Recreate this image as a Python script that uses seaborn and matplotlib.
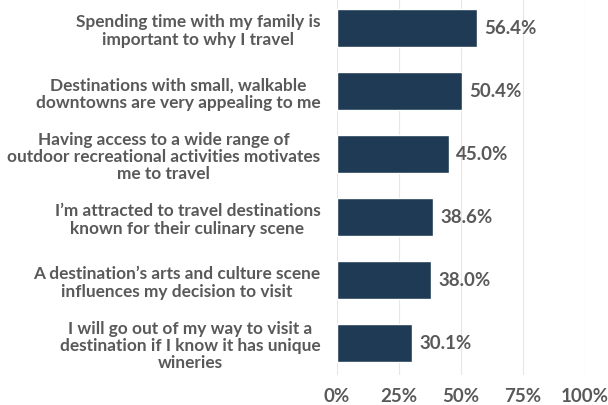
import matplotlib
matplotlib.use("Agg")
import matplotlib.pyplot as plt
import seaborn as sns
import pandas as pd

statements = [
    "Spending time with my family is\nimportant to why I travel",
    "Destinations with small, walkable\ndowntowns are very appealing to me",
    "Having access to a wide range of\noutdoor recreational activities motivates\nme to travel",
    "I\u2019m attracted to travel destinations\nknown for their culinary scene",
    "A destination\u2019s arts and culture scene\ninfluences my decision to visit",
    "I will go out of my way to visit a\ndestination if I know it has unique\nwineries",
]
shares = [56.4, 50.4, 45.0, 38.6, 38.0, 30.1]
tick_values = [0, 25, 50, 75, 100]
tick_labels = ["0%", "25%", "50%", "75%", "100%"]

df = pd.DataFrame({"statement": statements, "share": shares})

sns.set_theme(style="white")
plt.rcParams["font.family"] = ["Lato", "DejaVu Sans"]

BAR = "#1e3a54"
TEXT = "#595959"

fig = plt.figure(figsize=(6.08, 4.06), dpi=100)
ax = fig.add_axes([337 / 608, 1 - 375.5 / 406, 248 / 608, 378 / 406])

sns.barplot(data=df, x="share", y="statement", color=BAR, width=0.6,
            saturation=1, orient="h", ax=ax, zorder=3)

ax.set_xlim(0, 100)
ax.set_ylim(len(statements) - 0.5, -0.5)
ax.set_xticks(tick_values)
ax.set_xticklabels(tick_labels)
ax.grid(axis="x", color="#e6e6e6", linewidth=0.8, zorder=0)
ax.grid(axis="y", visible=False)
for s in ax.spines.values():
    s.set_visible(False)
ax.set_xlabel("")
ax.set_ylabel("")
ax.tick_params(axis="both", length=0)
ax.tick_params(axis="y", pad=12)
ax.tick_params(axis="x", pad=9)

for lab in ax.get_yticklabels():
    lab.set_fontsize(12.4)
    lab.set_fontweight("bold")
    lab.set_color(TEXT)
    lab.set_horizontalalignment("right")
    lab.set_multialignment("center")
    lab.set_linespacing(1.08)
for lab in ax.get_xticklabels():
    lab.set_fontsize(13.5)
    lab.set_fontweight("bold")
    lab.set_color(TEXT)

for i, v in enumerate(shares):
    ax.text(v + 3.0, i, f"{v:.1f}%", va="center", ha="left",
            fontsize=13.5, fontweight="bold", color=TEXT)

fig.savefig("out.png", dpi=100)
